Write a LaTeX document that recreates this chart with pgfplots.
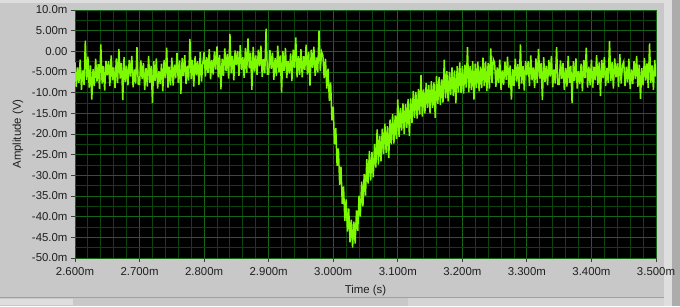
\documentclass[border=0pt]{standalone}
\usepackage{fontspec}
\setmainfont{Liberation Sans}
\usepackage{pgfplots}
\pgfplotsset{compat=1.18}
\definecolor{panel}{RGB}{200,200,200}
\definecolor{panellight}{RGB}{222,222,222}
\definecolor{paneldark}{RGB}{160,160,160}
\definecolor{gmaj}{RGB}{22,100,22}
\definecolor{gmin}{RGB}{12,66,12}
\definecolor{sig}{RGB}{125,250,0}
\begin{document}
\begin{tikzpicture}[x=1pt,y=1pt]
\useasboundingbox (0,0) rectangle (680,306);
\fill[panel] (0,0) rectangle (680,306);
\fill[panellight] (0,303) rectangle (680,306);
\fill[panellight] (664,0) rectangle (672,306);
\fill[paneldark!70!panel] (672,0) rectangle (680,306);
\fill[paneldark] (0,8) rectangle (664,9);
\fill[panellight] (0,1) rectangle (73,7);
\fill[panellight!60!panel] (408,0) rectangle (664,8);
\begin{axis}[
  at={(75pt,48pt)}, anchor=south west,
  scale only axis, width=581pt, height=248pt,
  xmin=0, xmax=450, ymin=-50, ymax=10,
  axis background/.style={fill=black},
  axis line style={draw=none},
  xtick={0,50,...,450},
  xticklabels={2.600m,2.700m,2.800m,2.900m,3.000m,3.100m,3.200m,3.300m,3.400m,3.500m},
  ytick={-50,-45,...,10},
  yticklabels={-50.0m,-45.0m,-40.0m,-35.0m,-30.0m,-25.0m,-20.0m,-15.0m,-10.0m,-5.00m,0.00,5.00m,10.0m},
  minor x tick num=4, minor y tick num=1,
  grid=both,
  major grid style={gmaj, line width=1pt},
  minor grid style={gmin, line width=0.9pt},
  tick align=outside, tick pos=left,
  major tick length=4pt, minor tick length=0pt,
  tick style={black!75, line width=0.9pt},
  ticklabel style={font=\fontsize{11.4}{13}\selectfont, text=black!88},
  xticklabel style={yshift=-2pt},
  xlabel={Time (s)}, ylabel={Amplitude (V)},
  label style={font=\fontsize{11.4}{13}\selectfont, text=black!88},
  xlabel style={at={(axis description cs:0.5,0)}, anchor=center, yshift=-33pt},
  ylabel style={at={(axis description cs:-0.0981,0.5)}, anchor=center},
]
\addplot[sig, line width=1.5pt] coordinates {
(0,-2.7)(1,-8.6)(2,-3.9)(3,-7.7)(4,-2.0)(5,-9.3)(6,-4.6)(7,-8.1)(8,2.6)(9,-6.9)
(10,-1.3)(11,-8.8)(12,-3.4)(13,-11.7)(14,-4.3)(15,-8.4)(16,-1.8)(17,-7.3)(18,-3.1)(19,-9.1)
(20,1.7)(21,-7.8)(22,-3.6)(23,-9.5)(24,-2.3)(25,-5.8)(26,-2.4)(27,-8.4)(28,-1.0)(29,-7.0)
(30,-3.9)(31,-8.9)(32,-1.7)(33,-7.7)(34,0.6)(35,-6.6)(36,-2.8)(37,-11.8)(38,-1.4)(39,-7.4)
(40,-3.5)(41,-8.2)(42,-2.1)(43,-6.1)(44,-1.1)(45,-8.7)(46,-4.4)(47,-7.8)(48,1.0)(49,-8.0)
(50,-8.0)(51,-2.2)(52,-6.7)(53,-2.8)(54,-9.4)(55,-4.1)(56,-8.5)(57,-1.1)(58,-7.6)(59,-3.5)
(60,-12.5)(61,-2.4)(62,-7.2)(63,-1.7)(64,-9.0)(65,-4.8)(66,-7.9)(67,-3.0)(68,-9.7)(69,-2.1)
(70,-6.5)(71,0.9)(72,-8.8)(73,-3.7)(74,-8.2)(75,-1.5)(76,-8.3)(77,-3.2)(78,-6.5)(79,-0.4)
(80,-7.6)(81,-2.2)(82,-10.3)(83,-1.6)(84,-6.0)(85,-0.9)(86,-7.9)(87,-3.5)(88,-7.1)(89,3.0)
(90,-6.7)(91,-2.1)(92,-8.5)(93,-1.2)(94,-5.8)(95,-2.4)(96,-8.1)(97,-0.2)(98,-7.3)(99,-2.9)
(100,-0.2)(101,-6.1)(102,-1.4)(103,-5.2)(104,0.5)(105,-6.8)(106,-2.1)(107,-5.6)(108,0.0)(109,-4.4)
(110,1.2)(111,-6.3)(112,-0.9)(113,-9.2)(114,-1.8)(115,-5.9)(116,0.7)(117,-4.8)(118,-0.6)(119,-6.6)
(120,4.2)(121,-5.3)(122,-1.1)(123,-7.0)(124,0.2)(125,-3.3)(126,0.1)(127,-5.9)(128,1.5)(129,-4.5)
(130,-1.4)(131,-6.4)(132,0.8)(133,-5.2)(134,3.1)(135,-4.1)(136,-0.3)(137,-9.3)(138,1.1)(139,-4.9)
(140,-1.0)(141,-5.7)(142,0.4)(143,-3.6)(144,1.4)(145,-6.2)(146,-1.9)(147,-5.3)(148,5.5)(149,-5.5)
(150,-5.5)(151,0.3)(152,-4.2)(153,-0.3)(154,-6.9)(155,-1.6)(156,-6.0)(157,1.4)(158,-5.1)(159,-1.0)
(160,-10.0)(161,0.1)(162,-4.7)(163,0.8)(164,-6.5)(165,-2.3)(166,-5.4)(167,-0.5)(168,-7.2)(169,0.4)
(170,-4.0)(171,3.4)(172,-6.3)(173,-1.2)(174,-5.7)(175,0.5)(176,-6.3)(177,-1.2)(178,-4.5)(179,1.6)
(180,-5.6)(181,-0.2)(182,-8.3)(183,0.4)(184,-4.0)(185,1.1)(186,-5.9)(187,-1.5)(188,-5.1)(189,5.0)
(190,-4.7)(191,-0.1)(192,-1.0)(193,-6.5)(194,-1.8)(195,-9.0)(196,-4.2)(197,-12.0)(198,-7.5)(199,-16.7)
(200,-13.4)(201,-22.5)(202,-18.6)(203,-27.7)(204,-23.5)(205,-32.3)(206,-27.9)(207,-36.9)(208,-32.7)(209,-41.0)
(210,-35.8)(211,-43.6)(212,-38.0)(213,-46.2)(214,-40.7)(215,-47.5)(216,-41.2)(217,-46.5)(218,-38.5)(219,-43.4)
(220,-34.9)(221,-40.0)(222,-31.5)(223,-37.5)(224,-29.7)(225,-34.9)(226,-26.1)(227,-32.0)(228,-24.1)(229,-31.3)
(230,-24.4)(231,-30.5)(232,-22.4)(233,-28.1)(234,-18.9)(235,-27.4)(236,-20.4)(237,-26.6)(238,-18.7)(239,-24.8)
(240,-17.5)(241,-24.6)(242,-18.1)(243,-25.8)(244,-16.5)(245,-22.5)(246,-15.2)(247,-22.3)(248,-15.5)(249,-21.2)
(250,-11.6)(251,-20.7)(252,-13.7)(253,-19.2)(254,-12.6)(255,-20.0)(256,-12.8)(257,-18.5)(258,-11.5)(259,-20.5)
(260,-11.4)(261,-17.3)(262,-9.6)(263,-16.1)(264,-9.8)(265,-16.3)(266,-9.1)(267,-15.3)(268,-5.7)(269,-15.8)
(270,-9.2)(271,-15.0)(272,-7.7)(273,-13.7)(274,-8.1)(275,-15.0)(276,-7.2)(277,-13.7)(278,-7.5)(279,-16.1)
(280,-6.0)(281,-12.7)(282,-6.2)(283,-13.0)(284,-6.8)(285,-12.4)(286,-2.0)(287,-11.4)(288,-4.8)(289,-12.1)
(290,-5.0)(291,-10.5)(292,-3.9)(293,-10.8)(294,-4.6)(295,-12.6)(296,-3.6)(297,-10.0)(298,-2.7)(299,-10.1)
(300,-3.6)(301,-10.2)(302,-3.2)(303,-8.8)(304,1.0)(305,-9.9)(306,-3.6)(307,-9.4)(308,-2.4)(309,-11.7)
(310,-3.0)(311,-8.9)(312,-2.5)(313,-9.7)(314,-3.7)(315,-8.9)(316,-1.5)(317,-8.4)(318,-2.5)(319,-9.6)
(320,-2.8)(321,-9.0)(322,0.7)(323,-7.7)(324,-1.9)(325,-2.7)(326,-8.6)(327,-3.9)(328,-7.7)(329,-2.0)
(330,-9.3)(331,-4.6)(332,-8.1)(333,-2.5)(334,-6.9)(335,-1.3)(336,-8.8)(337,-3.4)(338,-11.7)(339,-4.3)
(340,-8.4)(341,-1.8)(342,-7.3)(343,-3.1)(344,-9.1)(345,1.7)(346,-7.8)(347,-3.6)(348,-9.5)(349,-2.3)
(350,-5.8)(351,-2.4)(352,-8.4)(353,-1.0)(354,-7.0)(355,-3.9)(356,-8.9)(357,-1.7)(358,-7.7)(359,0.6)
(360,-6.6)(361,-2.8)(362,-11.8)(363,-1.4)(364,-7.4)(365,-3.5)(366,-8.2)(367,-2.1)(368,-6.1)(369,-1.1)
(370,-8.7)(371,-4.4)(372,-7.8)(373,1.0)(374,-8.0)(375,-8.0)(376,-2.2)(377,-6.7)(378,-2.8)(379,-9.4)
(380,-4.1)(381,-8.5)(382,-1.1)(383,-7.6)(384,-3.5)(385,-12.5)(386,-2.4)(387,-7.2)(388,-1.7)(389,-9.0)
(390,-4.8)(391,-7.9)(392,-3.0)(393,-9.7)(394,-2.1)(395,-6.5)(396,0.9)(397,-8.8)(398,-3.7)(399,-8.2)
(400,-2.0)(401,-8.8)(402,-3.7)(403,-7.0)(404,-0.9)(405,-8.1)(406,-2.7)(407,-10.8)(408,-2.1)(409,-6.5)
(410,-1.4)(411,-8.4)(412,-4.0)(413,-7.6)(414,2.5)(415,-7.2)(416,-2.6)(417,-9.0)(418,-1.7)(419,-6.3)
(420,-2.9)(421,-8.6)(422,-0.7)(423,-7.8)(424,-3.4)(425,-2.5)(426,-8.4)(427,-3.7)(428,-7.5)(429,-1.8)
(430,-9.1)(431,-4.4)(432,-7.9)(433,-2.3)(434,-6.7)(435,-1.1)(436,-8.6)(437,-3.2)(438,-11.5)(439,-4.1)
(440,-8.2)(441,-1.6)(442,-7.1)(443,-2.9)(444,-8.9)(445,1.9)(446,-7.6)(447,-3.4)(448,-9.3)(449,-2.1)
(450,-6.1)
};
\end{axis}
\end{tikzpicture}
\end{document}
